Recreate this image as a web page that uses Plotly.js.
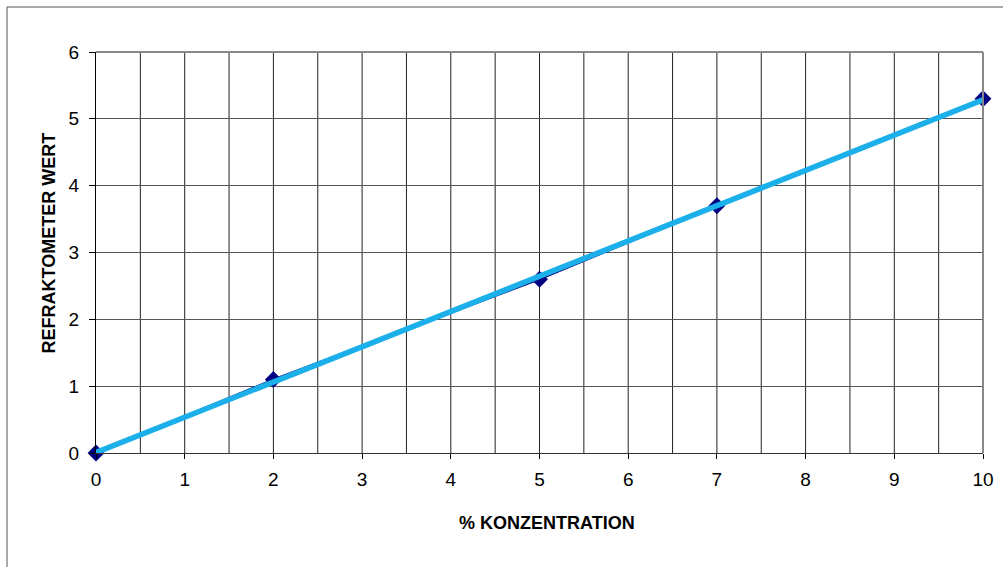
<!DOCTYPE html>
<html><head><meta charset="utf-8">
<script src="https://cdn.plot.ly/plotly-3.0.1.min.js"></script>
<style>html,body{margin:0;padding:0;background:#fff}#c{width:1003px;height:567px}</style>
</head><body><div id="c"></div>
<script>
const konzentration = [0, 2, 5, 7, 10];
const refraktometer = [0, 1.1, 2.6, 3.7, 5.3];
const xTicks = [0,1,2,3,4,5,6,7,8,9,10];
const yTicks = [0,1,2,3,4,5,6];
const xTitle = '% KONZENTRATION';
const yTitle = 'REFRAKTOMETER WERT';

// Linear trendline (least squares) from the data, as the original chart's trendline
const n = konzentration.length;
const mx = konzentration.reduce((a,b)=>a+b,0)/n;
const my = refraktometer.reduce((a,b)=>a+b,0)/n;
let sxy=0, sxx=0;
for (let i=0;i<n;i++){ sxy+=(konzentration[i]-mx)*(refraktometer[i]-my); sxx+=(konzentration[i]-mx)**2; }
const slope = sxy/sxx, icpt = my - slope*mx;
const trendX = [konzentration[0], konzentration[n-1]];
const trendY = trendX.map(x=>icpt+slope*x);

const font = "'Liberation Sans', Arial, sans-serif";
const L=96, R=983, T=52, B=453, PW=R-L, PH=B-T;
const px = v => (v-L)/PW, py = v => (B-v)/PH;

const data = [
  {x: konzentration, y: refraktometer, type:'scatter', mode:'lines+markers',
   line:{color:'#000080', width:2}, marker:{symbol:'diamond', size:13, color:'#000080'}, cliponaxis:false},
  {x: trendX, y: trendY, type:'scatter', mode:'lines', line:{color:'#1cb0ea', width:5.5}, cliponaxis:false}
];
const layout = {
  width:1003, height:567, showlegend:false,
  margin:{l:L, r:1003-R, t:T, b:567-B},
  paper_bgcolor:'#fff', plot_bgcolor:'#fff',
  font:{family:font, size:19, color:'#000'},
  xaxis:{range:[0,10], tickvals:xTicks, ticktext:xTicks.map(String), ticks:'outside', ticklen:5, tickcolor:'#000',
    showgrid:false, zeroline:false, showline:true, linecolor:'#333', linewidth:1,
    tickfont:{size:19}, ticklabelstandoff:4, fixedrange:true},
  yaxis:{range:[0,6], tickvals:yTicks, ticktext:yTicks.map(String), ticks:'outside', ticklen:6, tickcolor:'#000',
    showgrid:true, gridcolor:'#555', gridwidth:1, zeroline:false, showline:true, linecolor:'#000', linewidth:1,
    tickfont:{size:19}, ticklabelstandoff:6, fixedrange:true},
  annotations: [
    {text:xTitle, xref:'paper', yref:'paper', x:px(547), y:py(523), xanchor:'center', yanchor:'middle', showarrow:false,
     font:{size:18, family:font, weight:'bold', color:'#000'}},
    {text:yTitle, xref:'paper', yref:'paper', x:px(48.5), y:py(243), xanchor:'center', yanchor:'middle', showarrow:false,
     textangle:-90, font:{size:18, family:font, weight:'bold', color:'#000'}}
  ],
  shapes: [
    ...Array.from({length:19},(_,i)=>({type:'line', xref:'x', yref:'paper', x0:(i+1)*0.5, x1:(i+1)*0.5, y0:0, y1:1, line:{color:'#222', width:1}, layer:'below'})),
    {type:'line', xref:'paper', yref:'paper', x0:0, x1:1, y0:1, y1:1, line:{color:'#888', width:2}},
    {type:'line', xref:'paper', yref:'paper', x0:1, x1:1, y0:0, y1:1, line:{color:'#888', width:2}},
    {type:'line', xref:'paper', yref:'paper', x0:px(7), x1:1.1, y0:py(7), y1:py(7), line:{color:'#555', width:1}},
    {type:'line', xref:'paper', yref:'paper', x0:px(7), x1:px(7), y0:py(7), y1:-0.4, line:{color:'#555', width:1}}
  ]
};
Plotly.newPlot('c', data, layout, {staticPlot:true, displayModeBar:false});
</script></body></html>
